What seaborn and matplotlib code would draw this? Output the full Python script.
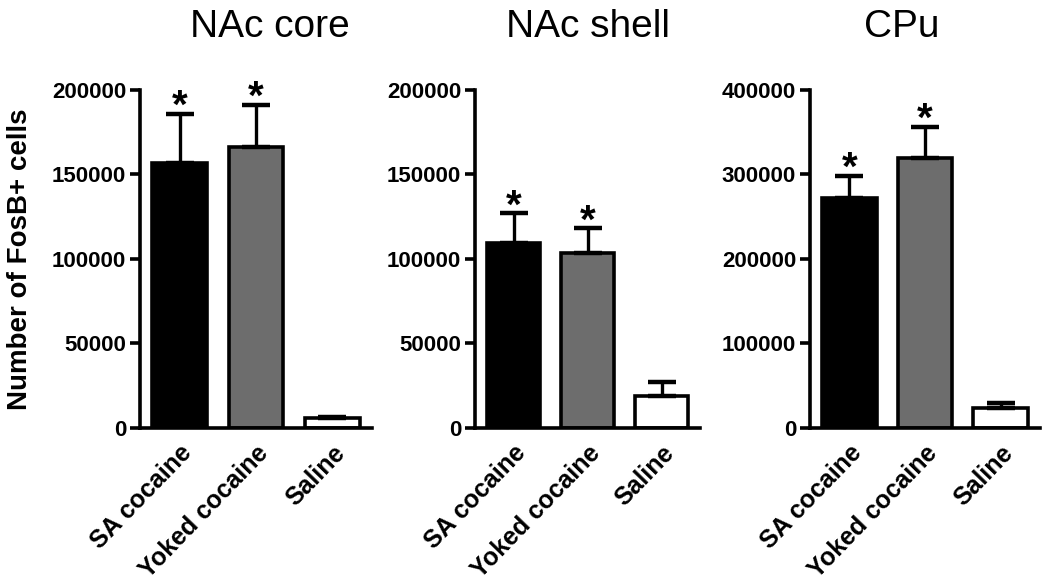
import numpy as np
import pandas as pd
import seaborn as sns
from matplotlib import pyplot as plt
from matplotlib import ticker

groups = ['SA cocaine', 'Yoked cocaine', 'Saline']
bar_colors = ['#000000', '#6d6d6d', '#ffffff']

titles = ['NAc core', 'NAc shell', 'CPu']
core_mean = [156500, 166000, 5900]
core_sem = [29300, 25200, 800]
shell_mean = [109400, 103500, 19100]
shell_sem = [17700, 14700, 7900]
cpu_mean = [271900, 319300, 23600]
cpu_sem = [26400, 37300, 5900]
core_ticks = [0, 50000, 100000, 150000, 200000]
shell_ticks = [0, 50000, 100000, 150000, 200000]
cpu_ticks = [0, 100000, 200000, 300000, 400000]
stars = [True, True, False]


def pre_config():
    sns.set_style('ticks')
    plt.rcParams['font.family'] = ['Liberation Sans', 'DejaVu Sans']
    plt.rcParams['axes.linewidth'] = 2.6
    # seaborn greys the text and spines, the figure is plain black
    for key in ['text.color', 'axes.labelcolor', 'axes.edgecolor', 'xtick.color', 'ytick.color']:
        plt.rcParams[key] = 'black'


def draw_panel(fig, rect, title, title_x, means, sems, yticks, ylabel=None):
    ax = fig.add_axes(rect)
    df = pd.DataFrame({'group': groups, 'count': means})
    sns.barplot(data=df, x='group', y='count', hue='group', palette=bar_colors,
                edgecolor='black', linewidth=2.6, width=0.72, legend=False, ax=ax)
    pos = np.arange(len(groups))
    ax.errorbar(pos, means, yerr=[np.zeros(len(sems)), sems], fmt='none', ecolor='black',
                elinewidth=2.4, capsize=10, capthick=3.2, zorder=1)
    for i, flag in enumerate(stars):
        if flag:
            ax.annotate('*', (i, means[i] + sems[i]), xytext=(0, -3), textcoords='offset points',
                        ha='center', va='baseline', fontsize=29, fontweight='bold')

    ax.set_xlim(-0.52, 2.52)
    ax.set_ylim(0, yticks[-1])
    ax.set_yticks(yticks)
    ax.yaxis.set_major_formatter(ticker.StrMethodFormatter('{x:.0f}'))
    ax.set_xticks(pos)
    ax.set_xticklabels(groups, rotation=46, ha='right', rotation_mode='anchor',
                       fontsize=18, fontweight='bold')
    ax.tick_params(axis='x', length=0, pad=9)
    ax.tick_params(axis='y', length=7, width=2.6, pad=3, labelsize=16)
    for lab in ax.get_yticklabels():
        lab.set_fontweight('bold')
    ax.set_xlabel('')
    ax.set_ylabel('')
    ax.set_title(title, fontsize=28, x=title_x, pad=38)
    sns.despine(ax=ax)
    ax.spines['left'].set_bounds(0, yticks[-1])
    if ylabel:
        ax.set_ylabel(ylabel, fontsize=20, fontweight='bold')
        ax.yaxis.set_label_coords(-0.462, 0.5)
    return ax


def main():
    pre_config()
    fig = plt.figure(figsize=(10.5, 5.88), dpi=100)
    draw_panel(fig, [0.1333, 0.2721, 0.221, 0.575], titles[0], 0.56,
               core_mean, core_sem, core_ticks, ylabel='Number of FosB+ cells')
    draw_panel(fig, [0.4524, 0.2721, 0.2143, 0.575], titles[1], 0.5,
               shell_mean, shell_sem, shell_ticks)
    draw_panel(fig, [0.7714, 0.2721, 0.219, 0.575], titles[2], 0.40,
               cpu_mean, cpu_sem, cpu_ticks)
    fig.savefig('out.png', dpi=100)


if __name__ == '__main__':
    main()
